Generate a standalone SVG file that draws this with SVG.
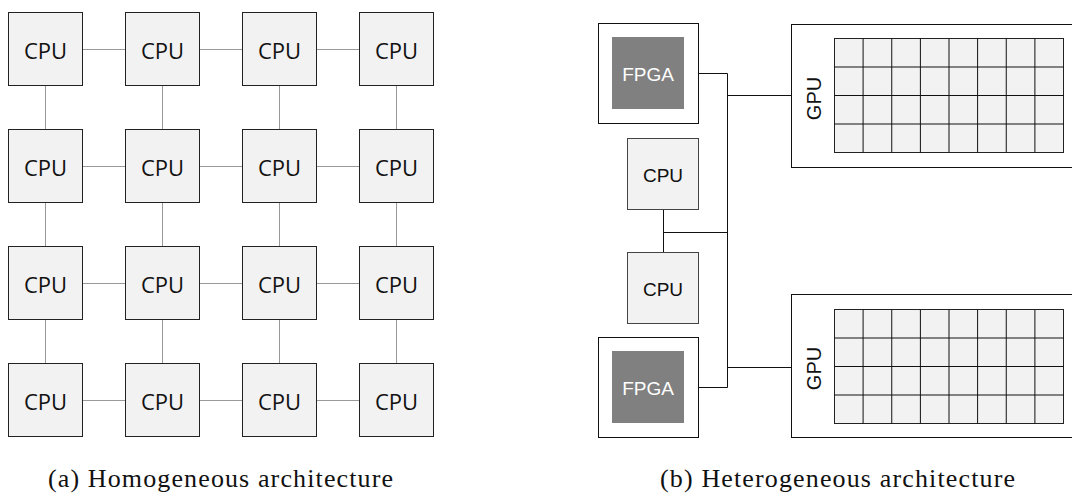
<svg xmlns="http://www.w3.org/2000/svg" width="1072" height="495" viewBox="0 0 1072 495">
<style>
.cpu{fill:#f2f2f2;stroke:#222;stroke-width:1}
.cput{font-family:"Open Sans",sans-serif;font-size:22px;fill:#111;text-anchor:middle;dominant-baseline:central}
.link{stroke:#999;stroke-width:1;fill:none}
.wire{stroke:#111;stroke-width:1;fill:none}
.rcpu{fill:#f2f2f2;stroke:#444;stroke-width:1}
.rt{font-family:"Liberation Sans",Arial,sans-serif;font-size:19px;fill:#111;text-anchor:middle;dominant-baseline:central}
.outer{fill:#fff;stroke:#111;stroke-width:1}
.fpga{fill:#808080;stroke:none}
.ft{font-family:"Liberation Sans",Arial,sans-serif;font-size:19px;fill:#fff;text-anchor:middle;dominant-baseline:central}
.gt{font-family:"Liberation Sans",Arial,sans-serif;font-size:20px;fill:#111;text-anchor:middle;dominant-baseline:central}
.cell{fill:#f2f2f2;stroke:#222;stroke-width:1}
.cap{font-family:"Liberation Serif","Times New Roman",serif;font-size:26px;fill:#111;text-anchor:middle}
</style>
<defs>
<g id="gpugrid">
<rect class="cell" x="0" y="0" width="229" height="114"/>
<path class="wire" stroke="#222" d="M28.6,0V114M57.25,0V114M85.9,0V114M114.5,0V114M143.1,0V114M171.75,0V114M200.4,0V114M0,28.5H229M0,57H229M0,85.5H229"/>
</g>
</defs>
<g id="connectors">
<path class="link" d="M82.5,49.5H125.5M199.5,49.5H242.5M316.5,49.5H359.5M82.5,166.5H125.5M199.5,166.5H242.5M316.5,166.5H359.5M82.5,283.5H125.5M199.5,283.5H242.5M316.5,283.5H359.5M82.5,400.5H125.5M199.5,400.5H242.5M316.5,400.5H359.5"/>
<path class="link" d="M45.5,86V129M162.5,86V129M279.5,86V129M396.5,86V129M45.5,203V246M162.5,203V246M279.5,203V246M396.5,203V246M45.5,320V363M162.5,320V363M279.5,320V363M396.5,320V363"/>
<path class="wire" d="M698,73.5H727.5V387.5H698M727.5,95.5H791M727.5,367.5H791M663.5,209V252M663.5,232.5H727.5"/>
</g>
<g id="homogeneous">
<g id="cpu-r1c1"><rect class="cpu" x="8.5" y="12.5" width="74" height="73"/><text class="cput" x="45.5" y="50">CPU</text></g>
<g id="cpu-r1c2"><rect class="cpu" x="125.5" y="12.5" width="74" height="73"/><text class="cput" x="162.5" y="50">CPU</text></g>
<g id="cpu-r1c3"><rect class="cpu" x="242.5" y="12.5" width="74" height="73"/><text class="cput" x="279.5" y="50">CPU</text></g>
<g id="cpu-r1c4"><rect class="cpu" x="359.5" y="12.5" width="74" height="73"/><text class="cput" x="396.5" y="50">CPU</text></g>
<g id="cpu-r2c1"><rect class="cpu" x="8.5" y="129.5" width="74" height="73"/><text class="cput" x="45.5" y="167">CPU</text></g>
<g id="cpu-r2c2"><rect class="cpu" x="125.5" y="129.5" width="74" height="73"/><text class="cput" x="162.5" y="167">CPU</text></g>
<g id="cpu-r2c3"><rect class="cpu" x="242.5" y="129.5" width="74" height="73"/><text class="cput" x="279.5" y="167">CPU</text></g>
<g id="cpu-r2c4"><rect class="cpu" x="359.5" y="129.5" width="74" height="73"/><text class="cput" x="396.5" y="167">CPU</text></g>
<g id="cpu-r3c1"><rect class="cpu" x="8.5" y="246.5" width="74" height="73"/><text class="cput" x="45.5" y="284">CPU</text></g>
<g id="cpu-r3c2"><rect class="cpu" x="125.5" y="246.5" width="74" height="73"/><text class="cput" x="162.5" y="284">CPU</text></g>
<g id="cpu-r3c3"><rect class="cpu" x="242.5" y="246.5" width="74" height="73"/><text class="cput" x="279.5" y="284">CPU</text></g>
<g id="cpu-r3c4"><rect class="cpu" x="359.5" y="246.5" width="74" height="73"/><text class="cput" x="396.5" y="284">CPU</text></g>
<g id="cpu-r4c1"><rect class="cpu" x="8.5" y="363.5" width="74" height="73"/><text class="cput" x="45.5" y="401">CPU</text></g>
<g id="cpu-r4c2"><rect class="cpu" x="125.5" y="363.5" width="74" height="73"/><text class="cput" x="162.5" y="401">CPU</text></g>
<g id="cpu-r4c3"><rect class="cpu" x="242.5" y="363.5" width="74" height="73"/><text class="cput" x="279.5" y="401">CPU</text></g>
<g id="cpu-r4c4"><rect class="cpu" x="359.5" y="363.5" width="74" height="73"/><text class="cput" x="396.5" y="401">CPU</text></g>
</g>
<g id="fpga1"><rect class="outer" x="598.5" y="23.5" width="100" height="100"/><rect class="fpga" x="612" y="37" width="72" height="72"/><text class="ft" x="648" y="74">FPGA</text></g>
<g id="fpga2"><rect class="outer" x="598.5" y="337.5" width="100" height="100"/><rect class="fpga" x="612" y="351" width="72" height="72"/><text class="ft" x="648" y="388">FPGA</text></g>
<g id="cpu-a"><rect class="rcpu" x="627.5" y="138.5" width="71" height="71"/><text class="rt" x="663" y="175">CPU</text></g>
<g id="cpu-b"><rect class="rcpu" x="627.5" y="252.5" width="71" height="71"/><text class="rt" x="663" y="289">CPU</text></g>
<g id="gpu1"><rect class="outer" x="791.5" y="24.5" width="290" height="143"/><text class="gt" transform="translate(814,98.5) rotate(-90)">GPU</text><use href="#gpugrid" x="834.5" y="38.5"/></g>
<g id="gpu2"><rect class="outer" x="791.5" y="294.5" width="290" height="143"/><text class="gt" transform="translate(814,368.5) rotate(-90)">GPU</text><use href="#gpugrid" x="834.5" y="309.5"/></g>
<g id="captions">
<text class="cap" x="220.5" y="487" textLength="345">(a) Homogeneous architecture</text>
<text class="cap" x="837.5" y="487" textLength="355">(b) Heterogeneous architecture</text>
</g>
</svg>
